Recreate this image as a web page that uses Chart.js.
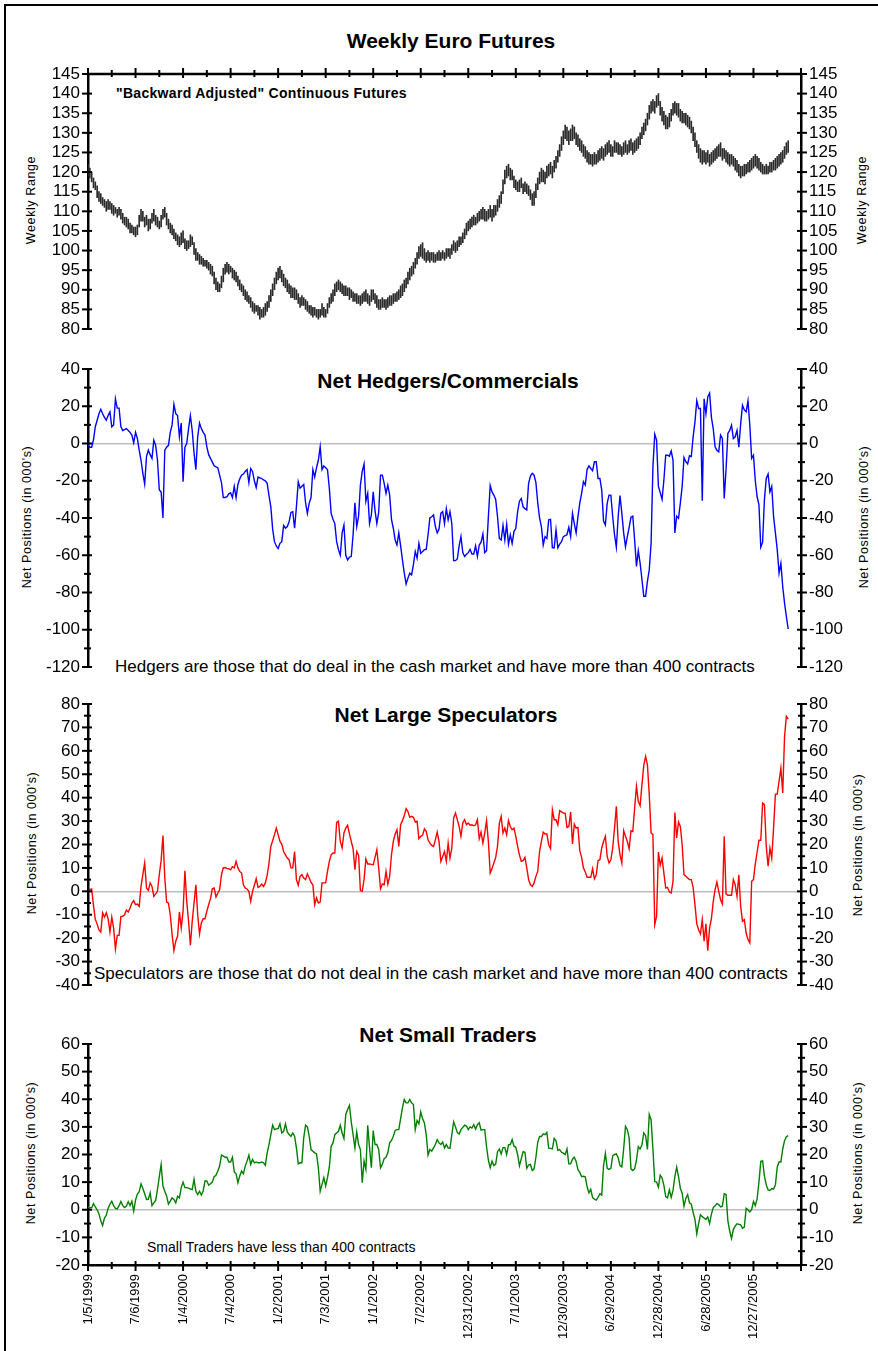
<!DOCTYPE html>
<html>
<head>
<meta charset="UTF-8" />
<script src="https://cdn.jsdelivr.net/npm/chart.js"></script>
<style>
  body { margin: 0; background: #fff; width: 878px; height: 1351px; position: relative; overflow: hidden;
         font-family: "Liberation Sans", Arial, Helvetica, sans-serif; color: #000; }
  canvas { position: absolute; left: 0; }
  .frame { position: absolute; left: 4px; top: 4px; width: 1000px; height: 1500px;
           border-left: 2px solid #000; border-top: 2px solid #000; }
  .title { position: absolute; font-weight: bold; font-size: 21px; line-height: 21px;
           transform: translateX(-50%); white-space: nowrap; }
  .note { position: absolute; font-size: 17px; line-height: 17px; white-space: nowrap; }
  .ytitle { position: absolute; font-size: 12.5px; letter-spacing: 0.6px; white-space: nowrap;
            transform: translate(-50%, -50%) rotate(-90deg); }
</style>
</head>
<body>
<div class="frame"></div>

<div class="title" style="left:451px; top:30px;">Weekly Euro Futures</div>
<div class="title" style="left:448px; top:370px;">Net Hedgers/Commercials</div>
<div class="title" style="left:446px; top:704px;">Net Large Speculators</div>
<div class="title" style="left:448px; top:1024px;">Net Small Traders</div>

<div class="note" style="left:116px; top:86px; font-size:14px; line-height:14px; font-weight:bold; letter-spacing:0.3px;">"Backward Adjusted" Continuous Futures</div>
<div class="note" style="left:115px; top:658px;">Hedgers are those that do deal in the cash market and have more than 400 contracts</div>
<div class="note" style="left:94px; top:965px;">Speculators are those that do not deal in the cash market and have more than 400 contracts</div>
<div class="note" style="left:147px; top:1240px; font-size:14px; line-height:14px;">Small Traders have less than 400 contracts</div>

<div class="ytitle" style="left:31px; top:200px;">Weekly Range</div>
<div class="ytitle" style="left:862px; top:200px;">Weekly Range</div>
<div class="ytitle" style="left:27px; top:517px;">Net Positions (in 000's)</div>
<div class="ytitle" style="left:864px; top:517px;">Net Positions (in 000's)</div>
<div class="ytitle" style="left:32px; top:843px;">Net Positions (in 000's)</div>
<div class="ytitle" style="left:858px; top:845px;">Net Positions (in 000's)</div>
<div class="ytitle" style="left:31px; top:1153px;">Net Positions (in 000's)</div>
<div class="ytitle" style="left:858px; top:1153px;">Net Positions (in 000's)</div>

<canvas id="price" width="878" height="295" style="top:54px;"></canvas>
<canvas id="hedgers" width="878" height="338" style="top:349px;"></canvas>
<canvas id="specs" width="878" height="321" style="top:684px;"></canvas>
<canvas id="small" width="878" height="327" style="top:1024px;"></canvas>

<script>
// tick labels of the date axis, one every 26 weeks starting 1/5/1999
const weekDates = ['1/5/1999', '7/6/1999', '1/4/2000', '7/4/2000', '1/2/2001', '7/3/2001', '1/1/2002',
  '7/2/2002', '12/31/2002', '7/1/2003', '12/30/2003', '6/29/2004', '12/28/2004', '6/28/2005', '12/27/2005'];

// weekly range of the euro futures contract (low / high)
const priceLow = [
  119, 118.5, 117.5, 116, 115.5, 113.5, 112.5, 112, 111.5, 111,
  110, 110.5, 110.5, 109.5, 109, 109.5, 108.5, 109, 108, 107,
  106.5, 106, 105.5, 104.5, 104.5, 104, 103.5, 104, 106, 107.5,
  107.5, 106, 106.5, 105, 105.5, 107, 107.5, 106.5, 106, 105.5,
  106, 108, 108.5, 106.5, 105.5, 104.5, 104, 103, 102.5, 101.5,
  101, 101.5, 102, 100.5, 100, 100.5, 101, 101.5, 99, 97.5,
  97.5, 96.5, 96.5, 96, 96, 95.5, 95, 94, 93.5, 91.5,
  90, 89.5, 89.5, 90.5, 92, 94, 94.5, 94, 94.5, 93,
  92.5, 92, 91, 90, 89.5, 88.5, 87.5, 87, 86.5, 85.5,
  84.5, 84, 84.5, 83.5, 82.5, 83, 83, 83.5, 84.5, 85.5,
  87, 88.5, 90, 91.5, 92.5, 93, 92, 91, 90.5, 89.5,
  89, 88, 88, 87.5, 87.5, 86.5, 85.5, 86, 86, 85,
  84.5, 84, 83.5, 83, 83.5, 83, 82.5, 83, 83.5, 83,
  83, 84, 85.5, 86.5, 87, 88.5, 89.5, 90, 89.5, 89,
  88.5, 88.5, 88.5, 87.5, 88, 87, 87, 86.5, 86.5, 86,
  86.5, 87, 87, 86.5, 86, 87, 87.5, 86.5, 85.5, 85,
  85, 85.5, 85.5, 85, 85.5, 86, 86, 86.5, 87, 87,
  87.5, 88, 88.5, 89.5, 90.5, 91.5, 92.5, 93.5, 94, 95.5,
  96.5, 98, 98.5, 98, 97.5, 97, 97.5, 97, 97.5, 97,
  97, 97.5, 97.5, 97.5, 98, 97.5, 98, 98.5, 98, 99,
  100, 99.5, 100, 101, 101.5, 102, 103, 104, 105, 105.5,
  106, 106.5, 106.5, 107, 107.5, 108, 108, 107.5, 107.5, 108,
  108.5, 107.5, 108.5, 109, 110, 111, 112, 114.5, 117, 118.5,
  119, 118, 118, 116, 115.5, 115, 115, 116, 114.5, 115,
  114.5, 114, 113, 111.5, 111.5, 113.5, 115.5, 117, 117.5, 117.5,
  117, 118.5, 119, 119.5, 118.5, 120, 121, 122.5, 124, 125.5,
  127, 128.5, 128, 127, 128, 128, 128.5, 127, 126.5, 125.5,
  125, 124, 123.5, 122.5, 122, 122, 121.5, 122, 122, 122.5,
  123, 123.5, 123, 124, 124.5, 125, 124, 124, 125, 125,
  124.5, 124.5, 124, 124.5, 125, 124.5, 125, 125.5, 124.5, 125,
  125.5, 126, 127, 128.5, 129.5, 130.5, 132, 133.5, 135, 135.5,
  135, 136.5, 137, 134.5, 133, 132, 131, 131, 131.5, 133,
  134.5, 135, 134.5, 134, 133, 132.5, 132.5, 132, 131.5, 131,
  130, 128, 126.5, 125, 123.5, 122.5, 122, 122.5, 122, 122.5,
  121.5, 122, 122.5, 123, 123.5, 124, 124, 123, 123.5, 122.5,
  122, 121.5, 122, 121.5, 120.5, 120, 119, 118.5, 119, 119,
  119.5, 120, 120, 120.5, 121, 121.5, 121, 120.5, 120, 119.5,
  119.5, 119.5, 119.5, 120, 120, 120.5, 120.5, 121, 121.5, 122,
  122.5, 123.5, 124.5, 125,
];
const priceHigh = [
  122, 121, 120, 118.5, 117.5, 116.5, 115, 114.5, 113.5, 113,
  112.5, 113, 112.5, 112, 111.5, 111, 110.5, 111, 110.5, 109.5,
  108.5, 108.5, 108, 107, 106.5, 106, 106, 106.5, 109, 110.5,
  110, 108.5, 109, 108, 108, 109.5, 110.5, 109, 108.5, 107.5,
  109, 110.5, 111, 109.5, 108, 107, 106.5, 105.5, 104.5, 104,
  103.5, 104.5, 105, 103, 102.5, 102.5, 104, 103.5, 102, 100.5,
  99.5, 99, 98.5, 98, 97.5, 97.5, 97, 96.5, 96, 94.5,
  93, 92, 91.5, 93.5, 95.5, 96.5, 97, 96.5, 96, 95.5,
  95, 94.5, 93.5, 92.5, 91.5, 91, 90, 89.5, 88.5, 88,
  87, 86.5, 86, 86, 85.5, 85, 85.5, 86.5, 87, 88.5,
  90, 91.5, 93, 94.5, 95.5, 96, 95, 94, 93, 92.5,
  91.5, 91, 90.5, 90.5, 90, 89, 88, 88.5, 88, 87.5,
  87, 86, 86, 85.5, 85.5, 85, 85, 85, 86.5, 85.5,
  85, 86.5, 88, 89, 90, 91.5, 92, 92.5, 92, 91.5,
  91, 91, 90.5, 90.5, 90, 89.5, 89, 89, 88.5, 88.5,
  89, 89.5, 90, 89, 88.5, 90, 90, 89, 88.5, 87.5,
  87.5, 88, 87.5, 87.5, 88, 88.5, 88.5, 89, 89, 89.5,
  90, 91, 91.5, 92.5, 93, 94.5, 95.5, 96, 97, 98,
  99.5, 101, 101.5, 102, 100.5, 99.5, 100, 99.5, 99.5, 99.5,
  99, 99.5, 100, 99.5, 100, 99.5, 100.5, 100.5, 100.5, 101.5,
  102.5, 102, 102.5, 103.5, 103.5, 104.5, 105.5, 107, 107.5, 108,
  108.5, 109, 108.5, 109.5, 110, 110.5, 111, 110.5, 110, 110.5,
  111.5, 110.5, 111.5, 111.5, 113, 114, 115, 118, 120.5, 121.5,
  122, 121, 120.5, 119, 118, 117.5, 118, 118.5, 117, 117.5,
  117, 116.5, 115.5, 114.5, 115, 117, 118.5, 120, 121, 120.5,
  120, 121.5, 122, 122.5, 121.5, 123, 124, 125.5, 127, 129,
  130.5, 132, 131.5, 130.5, 131, 132, 131.5, 130, 129.5, 128.5,
  128, 127, 126.5, 125.5, 125, 124.5, 124.5, 125, 124.5, 125.5,
  126, 126.5, 126, 127, 127.5, 128, 127, 126.5, 128, 127.5,
  127.5, 127, 126.5, 127.5, 128, 127, 128, 128.5, 127.5, 128,
  128.5, 129, 130, 131.5, 132.5, 133.5, 135, 137, 138, 138.5,
  138, 139.5, 140, 138, 136.5, 135.5, 134.5, 134, 135, 136,
  137.5, 138, 137.5, 137.5, 136, 135.5, 135, 135, 134.5, 134,
  133, 131.5, 130, 128, 127, 126, 125.5, 125.5, 125, 125.5,
  124.5, 125, 125.5, 126, 126.5, 127, 127.5, 126, 126, 125.5,
  125, 124.5, 124.5, 124, 123.5, 123, 122, 121.5, 121.5, 122,
  122, 122.5, 123, 123.5, 124, 124.5, 124, 123.5, 122.5, 122,
  121.5, 122, 121.5, 122.5, 122.5, 123, 123.5, 124, 124.5, 125,
  125.5, 126.5, 127.5, 128,
];

// net positions in thousands of contracts, one value per week
const hedgers = [
  -1, -2, -2, 2, 9, 12.5, 16, 18.4, 16, 14,
  12.5, 15, 17, 9, 10, 24, 19, 19, 9, 7,
  7.5, 8, 7, 6, 4.5, 0.4, 6, 2.7, -3.6, -9,
  -16, -21.8, -7, -3.6, -6, -8, 1.8, -1, -9, -25,
  -26, -40, -3.6, -2, -1, 6, 10, 21, 16, 15,
  3.6, 11, -20.5, -2, 0, 8, 15, 7, -5, -14,
  3.6, 11, 8, 6, 4.5, -1.8, -6, -8, -10, -12,
  -12.5, -13, -17, -21, -29, -29, -28.6, -27, -26.4, -29,
  -23, -29, -22, -19, -17, -16.4, -15, -14, -21, -13.4,
  -15, -20, -23.6, -18, -18.5, -18.8, -19.5, -20, -21.4, -28,
  -34, -46, -52.7, -55, -56.4, -53.6, -52.7, -44, -45.5, -44.6,
  -42, -37, -36.6, -45.5, -34, -20.5, -24, -23, -22, -31.8,
  -37.5, -32, -29, -14, -18, -13, -9, -1.8, -14, -12,
  -13, -14, -24, -37.5, -40.7, -43, -52.7, -57, -60, -48,
  -43.8, -60, -62.5, -61, -60.7, -49, -31.8, -44.6, -39, -22.3,
  -15, -11, -31, -26.8, -43, -38.4, -26, -36, -43, -37,
  -17, -17, -21.4, -26.8, -22.3, -27.7, -40.7, -45.5, -51.8, -54.5,
  -48, -55, -62.5, -69.6, -75.4, -72.3, -69.6, -70.5, -65, -58,
  -61.6, -53.6, -59, -58, -57, -56.8, -49, -40, -39.3, -38.4,
  -44.6, -48, -46, -37.5, -36.6, -43, -35, -41, -36.6, -43,
  -62.9, -62.9, -62, -55, -50, -58.6, -60.7, -59.5, -58.6, -56.8,
  -59.3, -59.3, -55, -60.7, -54.5, -53, -48.6, -58.6, -57.5, -39.3,
  -22.5, -26, -27.7, -30, -39.3, -51, -51.8, -44, -51.8, -43.4,
  -54, -49, -53.6, -47.3, -45.5, -36.6, -31, -29.5, -34, -35,
  -35.7, -21.4, -17.5, -16, -17, -21, -31.8, -40, -44.6, -54.5,
  -50, -51, -41, -40.7, -56, -56, -46.4, -56, -54, -52.7,
  -50, -49.5, -49, -45, -50, -37.5, -43, -48, -39.3, -32,
  -26.8, -20.5, -22.3, -14, -12, -13.4, -14.6, -9.8, -9.8, -18.8,
  -18.8, -25, -41.6, -43.8, -32, -27.7, -27.7, -39.3, -49, -55.7,
  -39.3, -27.9, -37.5, -48, -55.4, -50, -45, -39.6, -39, -51.8,
  -66, -57.5, -64.3, -73, -82, -82, -74, -67.8, -53.6, -12.5,
  5, 1.8, -23, -26.4, -30, -19.6, -6.3, -6.3, -6.8, -4,
  -9, -48, -39, -40.2, -32, -23, -7.5, -9.8, -11, -6.6,
  -7, 3.6, 11.6, 23, 18.8, 18.8, -30.7, 24, 16, 25,
  27, 14, 8, -1.8, -3.6, -4.5, 4.5, 2.7, -29.5, -14,
  5.4, 7, 9.8, 2.7, 3.6, 7, -2, 10.7, 20.5, 18,
  17, 22.9, 9.8, -8, -6.3, -20, -28.6, -33, -55.7, -53,
  -30, -18.8, -16.4, -26, -23, -39.3, -48, -57, -69.6, -64.3,
  -76.8, -85.7, -92.9, -99.6,
];
const largeSpecs = [
  0, 0.7, 1, -6, -12, -14, -16.5, -17.4, -9.2, -11,
  -9.2, -11.7, -17.4, -11, -15.6, -24.6, -18.8, -18.8, -10.7, -10.7,
  -10, -8, -8.8, -7.1, -5, -4, -5.7, -5.4, -6.4, 2.1,
  7.1, 12.1, 1.4, 0.4, 3.6, 2.1, -2.1, -1.1, 0, 7.1,
  13.2, 23.8, 5.7, -4.6, -5, -10, -18.5, -25.3, -21.3, -19.2,
  -8.8, -15.6, -8.5, 8.8, -4.3, -12.8, -23, -12.8, -5, 2.8,
  -10, -18.2, -13.5, -11.7, -11.7, -8.5, -5.7, -3.1, 1.1, 1.4,
  -2.4, -0.7, 0.7, 7.1, 10, 10.2, 9.7, 9.7, 9.2, 10.5,
  10, 12.8, 10, 8.5, 7.8, 2.8, 1.4, 1, 0, -4.3,
  0, 2.6, 5.4, 1.7, 2.1, 3.1, 2.1, 3.6, 6.8, 12,
  19.2, 21.6, 24.2, 27, 24.2, 21.3, 20.2, 17, 15.6, 14.2,
  13.5, 10, 10, 17, 5, 2.6, 6.4, 7.1, 5.7, 5,
  7.4, 5.7, 3.8, 2.8, -5.7, -2.8, -5, -4.6, 3.6, 3.6,
  3.6, 8.5, 12.8, 15.6, 16.4, 16.4, 29.4, 29.9, 21.3, 18.5,
  24.9, 27, 28.2, 24.5, 21.3, 18.2, 9.2, 17, 15.4, 0.3,
  0, 5, 13.8, 11.7, 11.7, 11.5, 11.4, 14.5, 17.8, 10,
  1.1, 3.1, 2.8, 8.5, 3.1, 6.4, 15.6, 21.3, 24.5, 26.3,
  19.2, 28.5, 30.2, 32.4, 35.3, 34.1, 31.6, 32, 31.6, 29.6,
  29.9, 22.5, 23.5, 23.9, 26.7, 25.6, 22, 20.6, 19.6, 19.2,
  22, 25.3, 21.3, 12.8, 14.9, 17, 12.8, 20.6, 14.2, 18.5,
  31.3, 33.4, 30.6, 27.7, 23.5, 29.2, 30.6, 28.4, 29.2, 28.2,
  28.4, 28, 28.4, 30.6, 22.5, 25.3, 20.6, 24.9, 30.2, 21.3,
  7.8, 9.7, 12.1, 14.5, 19.2, 29, 32, 24.9, 27, 24.2,
  30.2, 27.7, 26.3, 27, 23.5, 19.2, 15.5, 12.8, 13.1, 14.5,
  10, 5, 2.8, 2.1, 3.6, 6.4, 8.5, 17, 21.3, 25.3,
  24.5, 24.5, 19.9, 18.2, 34.9, 30.6, 30.6, 28.4, 34.4, 33.9,
  33.4, 33.4, 27.3, 27.7, 33.9, 20.2, 28.7, 27, 27.3, 17.4,
  14.5, 10, 8.3, 6, 6, 6, 9.7, 5.4, 7.1, 13.1,
  13.5, 18.5, 21.3, 23.5, 14.9, 12.1, 13.5, 18.5, 27, 36.3,
  21.3, 15.6, 12.1, 25.9, 23.5, 21.3, 18.2, 25.9, 25.6, 35.6,
  44.8, 38.4, 36.6, 45.5, 53.8, 57.6, 54, 41.3, 24.9, 24.2,
  -14.2, -10.7, 16.8, 11.1, 14.2, 7.8, 1.4, 1.7, -0.3, -0.7,
  4.3, 33.7, 22.8, 29.6, 27.7, 19.9, 7.1, 6.4, 5.7, 5,
  5, 1.7, -5.7, -13.9, -16.4, -18.2, -12.1, -21.3, -13.9, -25.3,
  -15.6, -11.7, -4.3, 0.7, 4, 0, -3.6, -5.4, 23.5, -1.1,
  -1.7, -1.7, -1.7, 5, 2.8, -2.1, 7.1, -6.4, -12.8, -12.1,
  -17.8, -20.6, -22, 4.3, 5, 11.7, 16.8, 21.8, 21.8, 37.7,
  37, 19.2, 10.7, 18.5, 14.2, 27, 41.5, 41.5, 47, 52.6,
  42, 66.1, 74.7, 73.5,
];
const smallTraders = [
  1, 0.7, 0.7, 2.2, 1, 0, -1.5, -4, -5.7, -3,
  -2, 0.5, 2, 3.1, 1.5, 0.5, 0.3, 1.5, 3, 1.5,
  0.8, 1.3, 2.9, 1.5, 3.1, -0.5, 3.5, 5.7, 6.5, 9.4,
  7.7, 5.8, 3.7, 3.8, 6.1, 1.5, 2.5, 3.4, 7.3, 12,
  16.4, 8.6, 6.7, 5, 2, 3.1, 4.3, 3.7, 2.5, 4.9,
  4.3, 8, 10, 8, 8, 7.8, 7.5, 7.3, 11, 6.7,
  5.5, 6.7, 5.3, 6.8, 10.4, 10.4, 8.9, 9.4, 10, 12,
  12.5, 14, 15.8, 19.8, 19.4, 19, 19, 17.3, 17.3, 19,
  13.7, 13, 9.8, 12.2, 14, 13, 15.8, 17.6, 19.8, 16.4,
  18.2, 17, 17.3, 17, 17, 17.3, 17, 16.1, 20.6, 23.6,
  27.2, 30.6, 29, 29.3, 29.4, 31.1, 27.8, 28.4, 31.1, 28.2,
  27.2, 26.6, 27.8, 26.6, 22.4, 16.6, 17, 17, 26, 30.6,
  30, 26.6, 21.8, 21.2, 20.6, 20.2, 15.2, 6.7, 9.2, 11.6,
  8.6, 11.6, 15.4, 23, 24.2, 27.2, 27.8, 28.4, 30.6, 27.8,
  25.8, 34.5, 36.3, 37.8, 31.8, 27.2, 22.4, 28.2, 23.6, 21.8,
  9.8, 17.6, 14.6, 30.6, 22.4, 15.2, 28.7, 23.6, 23.6, 21.8,
  15.2, 16.5, 18.5, 19, 20.6, 24.2, 25.1, 26.6, 28.7, 29,
  29, 33, 37, 39.9, 38.7, 38.7, 39.9, 38.7, 38.1, 29,
  32.3, 31.1, 35.4, 33, 31.4, 27.2, 19.8, 21.8, 21.2, 22.4,
  23.6, 25.4, 24.2, 23.6, 24.5, 22.4, 23.6, 22.4, 22.2, 27.2,
  31.8, 30, 28, 27.4, 29, 29.8, 30.6, 30.3, 29, 30,
  29.6, 30.8, 29.2, 30.8, 31.5, 28.8, 29, 29, 22.8, 18,
  15.2, 17.6, 16, 16.5, 21, 22, 20.2, 22.5, 22.5, 20,
  23.5, 23.6, 25.4, 23, 22.6, 20, 15.9, 18.5, 21, 20.8,
  15, 16.2, 16.4, 14.2, 14.8, 19, 24.5, 26.5, 26.5, 27.5,
  27.2, 28, 22.3, 22.2, 22, 25.8, 25, 21.5, 21.8, 20.8,
  20.5, 20, 22, 16.6, 16.6, 18.3, 19, 17.5, 14.5, 13.5,
  12, 12.1, 11.9, 8.3, 6.1, 7.4, 4.4, 3.8, 3.5, 4.5,
  5.8, 5.3, 16, 20.4, 15, 14.6, 15, 19.5, 20, 20.2,
  18.8, 16, 15.5, 22, 30.2, 29, 26, 14.8, 14.2, 14.8,
  18, 22.8, 22, 23.5, 27.8, 26.8, 21.8, 34.5, 32.5, 22,
  10.2, 10, 8.2, 12.5, 11.5, 8.8, 4.8, 4.3, 7.2, 4.5,
  7, 12, 15.4, 12, 7.8, 6, 1.3, 4.1, 5.5, 2.5,
  2, -1, -3.5, -8.7, -5, -1.8, -2.5, -3, -3.5, -2.6,
  -5, -1.6, 0.8, 1.4, 2.2, 1.9, 1, 1.3, 5.8, 5.5,
  -4, -7.7, -10.4, -7.1, -5.9, -5.1, -5.3, -5.5, -6.7, -6.3,
  0.5, 0, -0.8, 0, 3, 1.5, 4, 10, 17.5, 17.7,
  12.2, 9, 7.2, 7, 7.7, 7.5, 9, 15.5, 17.3, 17.3,
  22, 25, 26.4, 26.8,
];

Chart.defaults.font.family = '"Liberation Sans", Arial, Helvetica, sans-serif';
Chart.defaults.color = '#000';
Chart.defaults.animation = false;

// week number of each sample (x value)
const weeks = hedgers.map((v, i) => i);

// axis tick marks that cross the axis line, like the original chart
const crossTicks = {
  id: 'crossTicks',
  afterDraw(chart, args, opts) {
    const { ctx, chartArea } = chart;
    const seg = (x1, y1, x2, y2) => { ctx.beginPath(); ctx.moveTo(x1, y1); ctx.lineTo(x2, y2); ctx.stroke(); };
    ctx.save();
    ctx.strokeStyle = '#000';
    ctx.lineWidth = 2;
    for (const id of ['y', 'y2']) {
      const s = chart.scales[id];
      const x0 = id === 'y' ? chartArea.left : chartArea.right;
      const dir = id === 'y' ? -1 : 1;
      s.ticks.forEach(t => {
        const y = s.getPixelForValue(t.value);
        const big = t.value % opts.major === 0;
        seg(x0 + dir * (big ? 6 : 4), y, x0 - dir * (big ? 4 : 3), y);
      });
    }
    if (opts.xAxis) {
      const s = chart.scales.x;
      const top = opts.xAxis === 'top';
      const y0 = top ? chartArea.top : chartArea.bottom;
      const dir = top ? -1 : 1;
      if (top) {
        ctx.lineWidth = 2.5;
        seg(chartArea.left - 1, y0, chartArea.right + 1, y0);
        ctx.lineWidth = 2;
      }
      for (let v = s.min; v <= s.max; v += 13) {
        const x = s.getPixelForValue(v);
        const big = v % 26 === 0;
        seg(x, y0 + dir * (big ? 6 : 4), x, y0 - dir * (big ? 4 : 3));
      }
    }
    ctx.restore();
  },
};

function yScale(side, min, max, step, major, zeroLine) {
  return {
    position: side,
    min,
    max,
    afterFit: s => { s.width = side === 'left' ? 88 : 77; },
    border: { display: true, color: '#000', width: 2.5 },
    grid: {
      display: side === 'left' && zeroLine,
      drawTicks: false,
      lineWidth: 1.6,
      color: c => (c.tick && c.tick.value === 0 ? '#bdbdbd' : 'rgba(0,0,0,0)'),
    },
    ticks: {
      stepSize: step,
      autoSkip: false,
      padding: 8,
      font: { size: 17 },
      callback: v => (v % major === 0 ? v : ''),
    },
  };
}

function xScale(withLabels) {
  return {
    type: 'linear',
    min: 0,
    max: 390,
    offset: false,
    display: withLabels,
    afterFit: s => { if (withLabels) s.height = 86; },
    border: { display: true, color: '#000', width: 2.5 },
    grid: { display: false, drawTicks: false },
    ticks: {
      stepSize: 13,
      autoSkip: false,
      minRotation: 90,
      maxRotation: 90,
      padding: 9,
      font: { size: 13 },
      callback: v => (v % 26 === 0 && weekDates[v / 26] ? weekDates[v / 26] : ''),
    },
  };
}

function makePanel(id, type, dataset, range, opts) {
  const [min, max, step, major] = range;
  return new Chart(document.getElementById(id), {
    type,
    data: { labels: weeks, datasets: [dataset] },
    plugins: [crossTicks],
    options: {
      responsive: false,
      devicePixelRatio: 1,
      layout: { padding: { top: 20, bottom: opts.xLabels ? 0 : 20, left: 0, right: 0 } },
      plugins: {
        legend: { display: false },
        tooltip: { enabled: false },
        crossTicks: { major, xAxis: opts.xAxis },
      },
      scales: {
        x: xScale(opts.xLabels),
        y: yScale('left', min, max, step, major, opts.zeroLine),
        y2: yScale('right', min, max, step, major, false),
      },
    },
  });
}

function lineSet(values, color) {
  return {
    data: values,
    borderColor: color,
    borderWidth: 1.4,
    pointRadius: 0,
    tension: 0,
    fill: false,
  };
}

makePanel('price', 'bar', {
  data: priceLow.map((lo, i) => [lo, priceHigh[i]]),
  backgroundColor: '#2a2a2a',
  borderWidth: 0,
  barThickness: 1,
  grouped: false,
}, [80, 145, 5, 5], { xAxis: 'top', xLabels: false, zeroLine: false });

makePanel('hedgers', 'line', lineSet(hedgers, '#0000ff'), [-120, 40, 10, 20],
  { xAxis: null, xLabels: false, zeroLine: true });

makePanel('specs', 'line', lineSet(largeSpecs, '#ff0000'), [-40, 80, 5, 10],
  { xAxis: null, xLabels: false, zeroLine: true });

makePanel('small', 'line', lineSet(smallTraders, '#008000'), [-20, 60, 5, 10],
  { xAxis: 'bottom', xLabels: true, zeroLine: true });
</script>
</body>
</html>
